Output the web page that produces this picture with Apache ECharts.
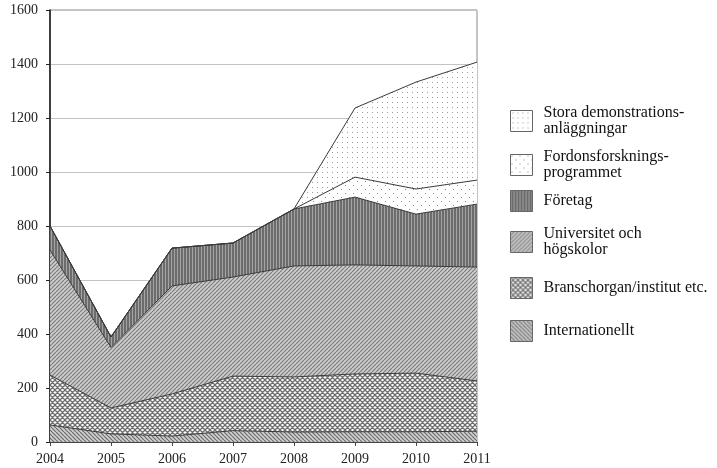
<!DOCTYPE html>
<html><head><meta charset="utf-8">
<script src="https://cdn.jsdelivr.net/npm/echarts@6/dist/echarts.min.js"></script>
<style>html,body{margin:0;padding:0;background:#fff}#c{width:717px;height:468px}</style>
</head><body><div id="c"></div>
<script>
const years = ['2004','2005','2006','2007','2008','2009','2010','2011'];
const internationellt = [63, 30, 22, 42, 37, 38, 38, 40];
const branschorgan = [185, 96, 156, 202, 204, 214, 217, 186];
const universitet = [463, 224, 400, 367, 411, 404, 397, 422];
const foretag = [89, 39, 140, 126, 211, 251, 192, 233];
const fordons = [0, 0, 0, 0, 0, 74, 93, 89];
const stora = [0, 0, 0, 0, 0, 256, 396, 437];
const yTicks = [0, 200, 400, 600, 800, 1000, 1200, 1400, 1600];

const names = {
  intl: 'Internationellt',
  bransch: 'Branschorgan/institut etc.',
  univ: 'Universitet och\nhögskolor',
  foretag: 'Företag',
  fordons: 'Fordonsforsknings-\nprogrammet',
  stora: 'Stora demonstrations-\nanläggningar'
};

function pattern(w, h, draw) {
  const c = document.createElement('canvas');
  c.width = w; c.height = h;
  const ctx = c.getContext('2d');
  draw(ctx, w, h);
  return { image: c, repeat: 'repeat' };
}
function diag(dir, s, bg, fg, lw) {
  return pattern(s, s, (ctx) => {
    ctx.fillStyle = bg; ctx.fillRect(0, 0, s, s);
    ctx.strokeStyle = fg; ctx.lineWidth = lw;
    ctx.beginPath();
    for (let k = -s; k <= s; k += s) {
      if (dir === 'back') { ctx.moveTo(k, 0); ctx.lineTo(k + s, s); }
      else { ctx.moveTo(k, s); ctx.lineTo(k + s, 0); }
    }
    ctx.stroke();
  });
}
const patIntl = diag('back', 4, '#cfcfcf', '#6a6a6a', 1.2);
const patUniv = diag('fwd', 4, '#cdcdcd', '#7c7c7c', 1.2);
const patBransch = pattern(5, 5, (ctx) => {
  ctx.fillStyle = '#fff'; ctx.fillRect(0, 0, 5, 5);
  ctx.strokeStyle = '#6e6e6e'; ctx.lineWidth = 1.3;
  ctx.beginPath();
  for (let k = -5; k <= 5; k += 5) {
    ctx.moveTo(k, 0); ctx.lineTo(k + 5, 5);
    ctx.moveTo(k, 5); ctx.lineTo(k + 5, 0);
  }
  ctx.stroke();
});
const patForetag = pattern(3, 2, (ctx) => {
  ctx.fillStyle = '#6c6c6c'; ctx.fillRect(0, 0, 3, 2);
  ctx.fillStyle = '#a4a4a4'; ctx.fillRect(0, 0, 1, 2);
});
const patFordons = pattern(8, 8, (ctx) => {
  ctx.fillStyle = '#fff'; ctx.fillRect(0, 0, 8, 8);
  ctx.fillStyle = '#8a8a8a';
  ctx.fillRect(1, 1, 1, 1); ctx.fillRect(5, 5, 1, 1);
});
const patStora = pattern(5, 5, (ctx) => {
  ctx.fillStyle = '#fff'; ctx.fillRect(0, 0, 5, 5);
  ctx.fillStyle = '#9a9a9a';
  ctx.fillRect(2, 2, 1, 1);
});

const font = 'Liberation Serif';
function series(name, data, pat) {
  return {
    name, type: 'line', stack: 'total', data, symbol: 'none',
    lineStyle: { color: '#3a3a3a', width: 1 },
    itemStyle: { color: '#888' },
    areaStyle: { color: pat, opacity: 1 },
    emphasis: { disabled: true }, silent: true
  };
}

const legendDefs = [
  [names.stora, patStora, 100],
  [names.fordons, patFordons, 144],
  [names.foretag, patForetag, 185],
  [names.univ, patUniv, 221],
  [names.bransch, patBransch, 272],
  [names.intl, patIntl, 315]
];

const chart = echarts.init(document.getElementById('c'), null, { renderer: 'canvas' });
chart.setOption({
  animation: false,
  backgroundColor: '#fff',
  grid: { left: 50, right: 240, top: 10, bottom: 26, show: true, borderColor: '#8a8a8a', borderWidth: 1 },
  xAxis: {
    type: 'category', data: years, boundaryGap: false,
    axisLine: { lineStyle: { color: '#444', width: 1 } },
    axisTick: { show: true, length: 4, lineStyle: { color: '#444' } },
    axisLabel: { color: '#222', fontFamily: font, fontSize: 14, margin: 10 },
    splitLine: { show: false }
  },
  yAxis: {
    type: 'value', min: 0, max: 1600, interval: 200,
    axisLine: { show: true, lineStyle: { color: '#111', width: 1.5 } },
    axisTick: { show: true, length: 4, lineStyle: { color: '#222' } },
    axisLabel: { color: '#222', fontFamily: font, fontSize: 14, margin: 12,
      formatter: (v) => yTicks.includes(v) ? String(v) : '' },
    splitLine: { lineStyle: { color: '#c4c4c4', width: 1 } }
  },
  legend: legendDefs.map(([name, pat, top]) => ({
    orient: 'vertical', left: 505, top, itemWidth: 22, itemHeight: 21,
    icon: 'rect', selectedMode: false,
    data: [{ name, itemStyle: { color: pat, borderColor: '#666', borderWidth: 1 } }],
    textStyle: { fontFamily: font, fontSize: 16, color: '#111', lineHeight: 16, padding: [0, 0, 0, 6] }
  })),
  series: [
    series(names.intl, internationellt, patIntl),
    series(names.bransch, branschorgan, patBransch),
    series(names.univ, universitet, patUniv),
    series(names.foretag, foretag, patForetag),
    series(names.fordons, fordons, patFordons),
    series(names.stora, stora, patStora)
  ]
});
</script></body></html>
